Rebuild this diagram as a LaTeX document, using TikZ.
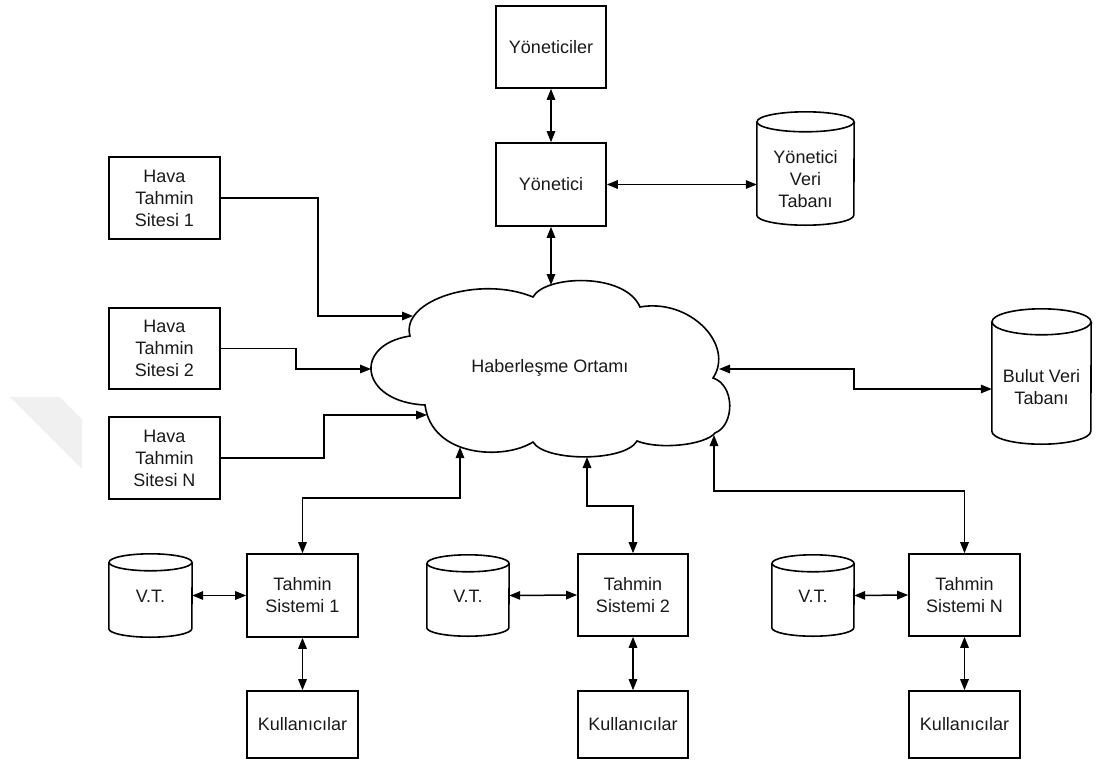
\documentclass[tikz,border=0pt]{standalone}
\usepackage{fontspec}
\setmainfont{Liberation Sans}
\usetikzlibrary{arrows.meta,calc}
\newcommand\cylshape[3]{%
  \draw[line width=1.6pt] ($(#1.north west)+(0,#3)$) -- ($(#1.south west)+(0,-#3)$)
    arc[start angle=180,end angle=0,x radius=#2,y radius=#3] -- ($(#1.north east)+(0,#3)$);
  \draw[line width=1.6pt] ($(#1.north)+(0,#3)$) ellipse[x radius=#2,y radius=#3];
}
\begin{document}
\begin{tikzpicture}[x=1pt,y=-1pt,
  txt/.style={align=center,inner sep=0pt,text=black!90,font=\fontsize{18}{22}\selectfont},
  box/.style={txt,draw=black,line width=1.6pt,rectangle},
  cylnode/.style={rectangle,inner sep=0pt},
  tip/.tip={Triangle[length=11pt,width=8.5pt]},
  conn/.style={line width=1.5pt,tip-tip},
  single/.style={line width=1.5pt,-tip}]
\useasboundingbox (0,0) rectangle (1096,761);
% faint watermark
\fill[black!6] (10,397) -- (60,397) -- (82,419) -- (82,469) -- cycle;

% boxes
\node[box,minimum width=110pt,minimum height=82pt] (yoneticiler) at (551,47) {Yöneticiler};
\node[box,minimum width=110pt,minimum height=83pt] (yonetici) at (551,184.5) {Yönetici};
\node[box,minimum width=111pt,minimum height=82pt] (hava1) at (164.5,198) {Hava\\Tahmin\\Sitesi 1};
\node[box,minimum width=111pt,minimum height=81pt] (hava2) at (164.5,348.5) {Hava\\Tahmin\\Sitesi 2};
\node[box,minimum width=111pt,minimum height=82pt] (havaN) at (164.5,458) {Hava\\Tahmin\\Sitesi N};
\node[box,minimum width=111pt,minimum height=83pt] (ts1) at (302.5,595.5) {Tahmin\\Sistemi 1};
\node[box,minimum width=110pt,minimum height=82pt] (ts2) at (633,595) {Tahmin\\Sistemi 2};
\node[box,minimum width=111pt,minimum height=82pt] (tsN) at (964.5,595) {Tahmin\\Sistemi N};
\node[box,minimum width=111pt,minimum height=67pt] (k1) at (302.5,724.5) {Kullanıcılar};
\node[box,minimum width=110pt,minimum height=67pt] (k2) at (633,724.5) {Kullanıcılar};
\node[box,minimum width=111pt,minimum height=67pt] (kN) at (964.5,724.5) {Kullanıcılar};

% cylinders
\node[cylnode,minimum width=97pt,minimum height=113pt] (yvt) at (805.5,168.5) {};
\cylshape{yvt}{48.5}{10}
\node[txt] (yvtT) at (805.5,179) {Yönetici\\Veri\\Tabanı};
\node[cylnode,minimum width=99pt,minimum height=135pt] (bvt) at (1041.5,376.5) {};
\cylshape{bvt}{49.5}{13}
\node[txt] (bvtT) at (1041.5,387) {Bulut Veri\\Tabanı};
\node[cylnode,minimum width=83pt,minimum height=83pt] (vt1) at (150.5,595.5) {};
\cylshape{vt1}{41.5}{8.5}
\node[txt] (vt1T) at (150.5,596) {V.T.};
\node[cylnode,minimum width=82pt,minimum height=81pt] (vt2) at (468,595.5) {};
\cylshape{vt2}{41}{8.5}
\node[txt] (vt2T) at (468,596) {V.T.};
\node[cylnode,minimum width=82pt,minimum height=81pt] (vtN) at (813,595.5) {};
\cylshape{vtN}{41}{8.5}
\node[txt] (vtNT) at (813,596) {V.T.};

% cloud
\draw[line width=1.6pt] (425,405) .. controls (360,402) and (352,345) .. (410,336)
  .. controls (400,300) and (480,275) .. (533,297)
  .. controls (545,275) and (625,272) .. (640,307)
  .. controls (690,298) and (735,345) .. (713,378)
  .. controls (735,385) and (735,425) .. (715,433)
  .. controls (705,445) and (660,450) .. (637,441)
  .. controls (625,462) and (545,462) .. (533,442)
  .. controls (505,460) and (432,458) .. (425,405) -- cycle;
\node[txt] (cloud) at (550,368) {Haberleşme Ortamı};
\coordinate (cT) at (551,285);
\coordinate (cL1) at (413,316);
\coordinate (cL2) at (371,369);
\coordinate (cL3) at (427,415);
\coordinate (cR) at (719,369);
\coordinate (cB1) at (460,447);
\coordinate (cB2) at (587,457);
\coordinate (cB3) at (714,435);

% connectors
\draw[conn] (yoneticiler.south) -- (yonetici.north);
\draw[conn] (yonetici.south) -- (cT);
\draw[conn] (yonetici.east) -- (yonetici.east -| yvt.west);
\draw[single] (hava1.east) -- ++(97,0) |- (cL1);
\draw[single] (hava2.east) -- ++(75,0) |- (cL2);
\draw[single] (havaN.east) -- ++(103,0) |- (cL3);
\draw[conn] (cR) -- ++(135,0) |- ($(bvt.west)+(0,12.5)$);
\draw[conn] (ts1.north) -- ++(0,-55) -| (cB1);
\draw[conn] (ts2.north) -- ++(0,-47) -| (cB2);
\draw[conn] (tsN.north) -- ++(0,-62) -| (cB3);
\draw[conn] (vt1.east) -- (ts1.west);
\draw[conn] (vt2.east) -- (ts2.west);
\draw[conn] (vtN.east) -- (tsN.west);
\draw[conn] (ts1.south) -- (k1.north);
\draw[conn] (ts2.south) -- (k2.north);
\draw[conn] (tsN.south) -- (kN.north);
\end{tikzpicture}
\end{document}
